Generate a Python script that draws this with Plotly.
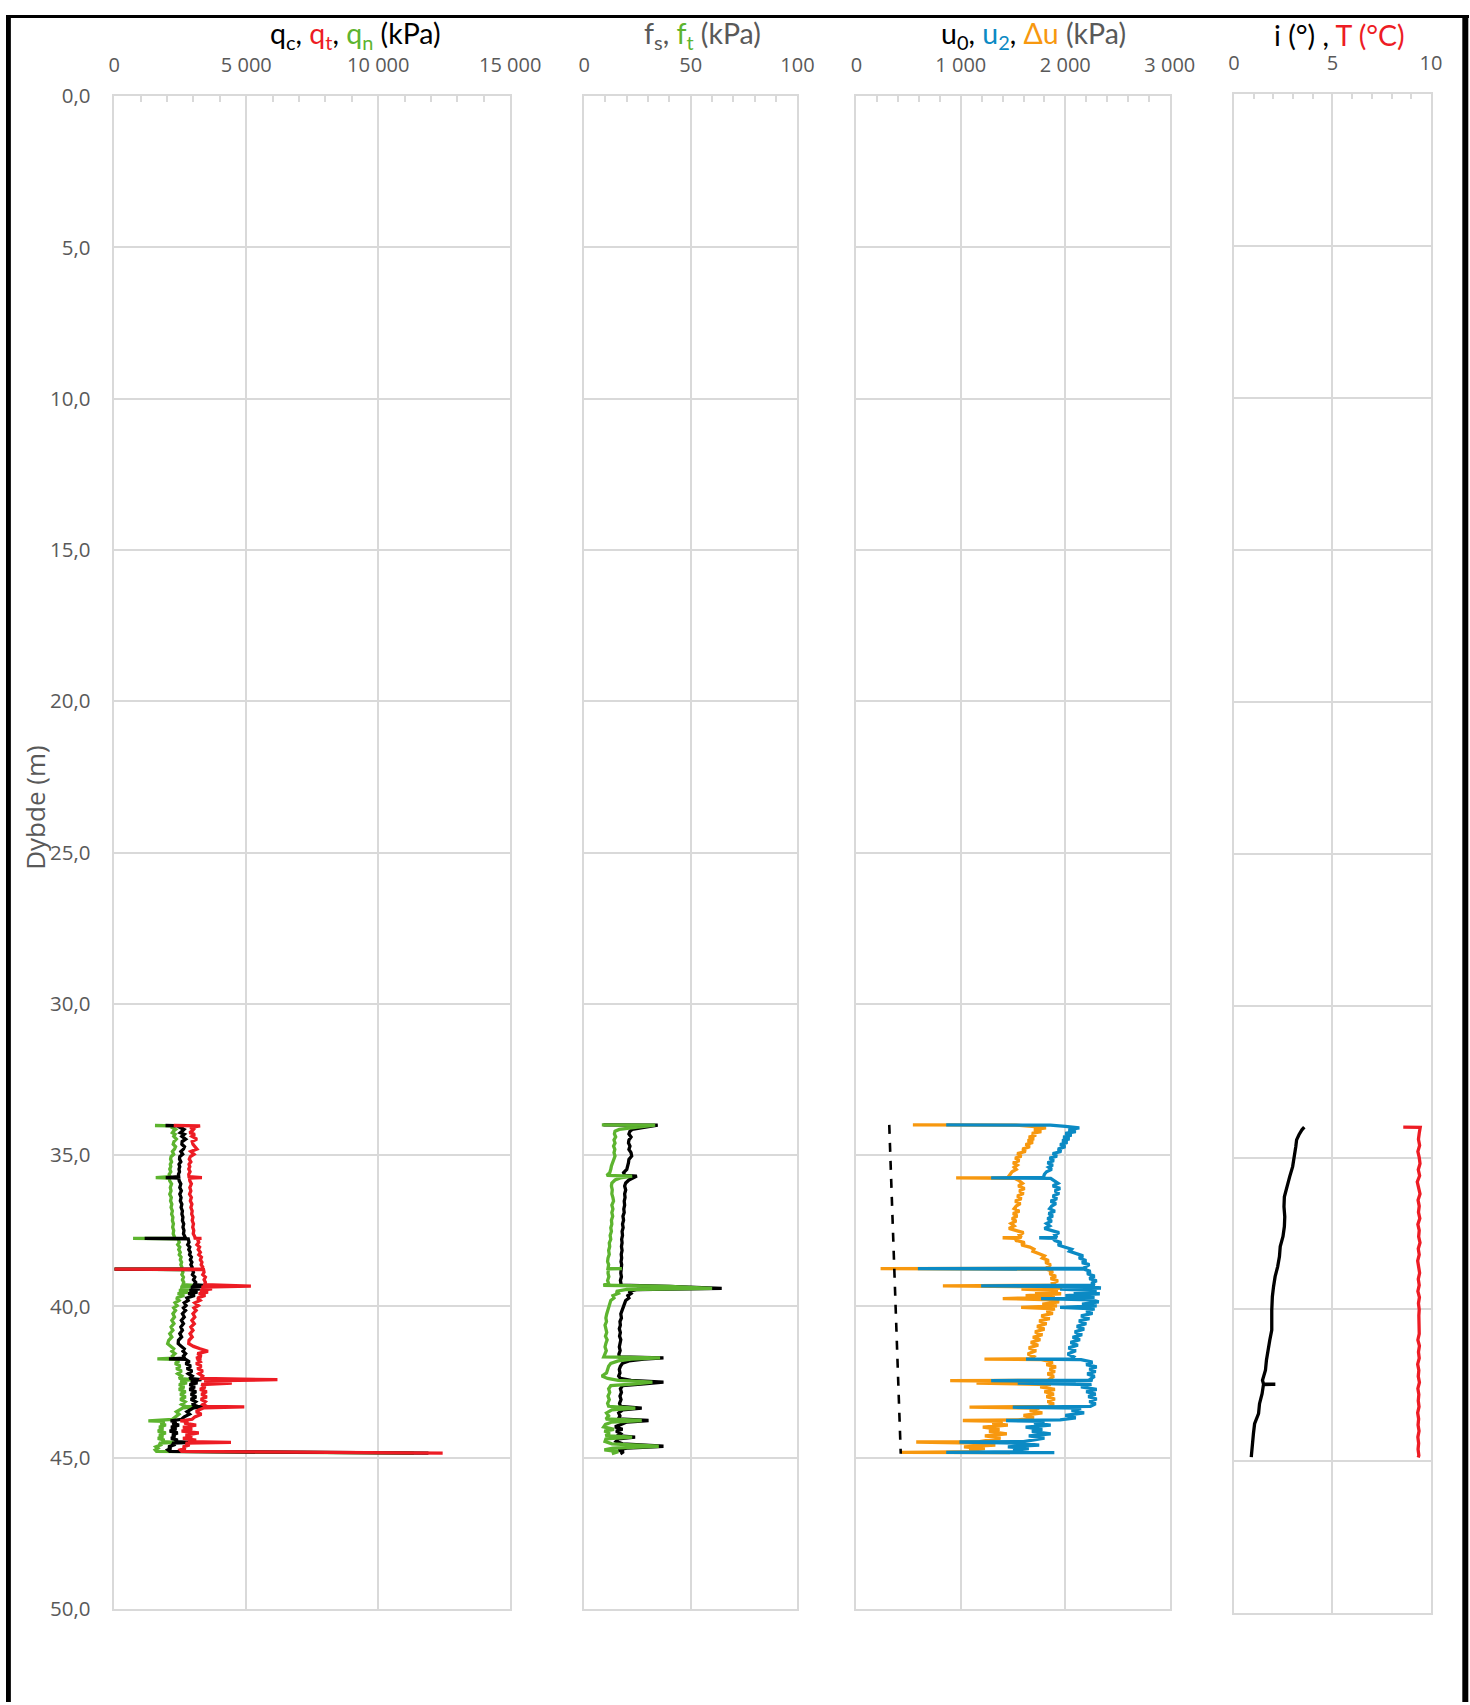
import plotly.graph_objects as go

# ---------------- DATA ----------------
# Panel 1: cone resistance (kPa)
depth_q = [34.02, 34.03, 34.09, 34.15, 34.20, 34.26, 34.31, 34.38, 34.47, 34.55, 34.64, 34.72, 34.80, 34.88,
           34.97, 35.05, 35.13, 35.22, 35.30, 35.38, 35.46, 35.55, 35.63, 35.71, 35.74, 35.76, 35.85, 35.95,
           36.07, 36.18, 36.29, 36.40, 36.51, 36.62, 36.73, 36.84, 36.95, 37.05, 37.16, 37.27, 37.38, 37.49,
           37.60, 37.70, 37.74, 37.75, 37.77, 37.88, 37.96, 38.04, 38.12, 38.21, 38.29, 38.37, 38.46, 38.54,
           38.62, 38.70, 38.76, 38.77, 38.78, 38.87, 38.95, 39.03, 39.12, 39.20, 39.28, 39.33, 39.36, 39.42,
           39.47, 39.53, 39.58, 39.64, 39.72, 39.80, 39.88, 39.97, 40.05, 40.13, 40.24, 40.35, 40.46, 40.57,
           40.68, 40.79, 40.90, 41.01, 41.12, 41.23, 41.32, 41.40, 41.48, 41.56, 41.64, 41.71, 41.73, 41.75,
           41.83, 41.89, 41.97, 42.05, 42.13, 42.22, 42.30, 42.38, 42.42, 42.46, 42.53, 42.58, 42.66, 42.74,
           42.82, 42.90, 42.99, 43.07, 43.15, 43.24, 43.30, 43.32, 43.35, 43.42, 43.48, 43.56, 43.65, 43.73,
           43.78, 43.80, 43.86, 43.92, 43.99, 44.05, 44.12, 44.18, 44.25, 44.31, 44.36, 44.42, 44.47, 44.49,
           44.52, 44.58, 44.64, 44.69, 44.74, 44.79, 44.85]
qn = [1540, 2250, 2200, 2320, 2250, 2200, 2300, 2250, 2350, 2260, 2230, 2320, 2280, 2200,
      2250, 2150, 2130, 2170, 2120, 2140, 2100, 2140, 2080, 2110, 1570, 2080, 2100, 2170,
      2120, 2150, 2100, 2160, 2130, 2180, 2150, 2200, 2170, 2220, 2200, 2240, 2210, 2250,
      2230, 2280, 2300, 710, 2420, 2460, 2400, 2480, 2440, 2500, 2460, 2530, 2500, 2550,
      2520, 2560, 2540, 0, 2580, 2600, 2560, 2620, 2580, 2630, 2600, 3450, 2500, 2900,
      2450, 2800, 2400, 2650, 2350, 2450, 2300, 2380, 2250, 2320, 2220, 2280, 2180, 2260,
      2150, 2220, 2100, 2180, 2060, 2020, 2150, 2250, 2180, 2300, 2200, 2250, 1630, 2300,
      2450, 2300, 2500, 2350, 2550, 2400, 2550, 2450, 2950, 2500, 2750, 2450, 2650, 2450,
      2700, 2500, 2700, 2500, 2680, 2550, 2700, 3100, 2600, 2450, 2350, 2450, 2300, 2200,
      1290, 1900, 1750, 1950, 1700, 1850, 1650, 1950, 1700, 1850, 1650, 1900, 1800, 2400,
      1700, 1750, 1580, 1650, 1550, 1600, 11350]
qc = [1940, 2600, 2500, 2640, 2580, 2500, 2650, 2560, 2700, 2570, 2560, 2660, 2620, 2520,
      2590, 2480, 2470, 2520, 2450, 2480, 2450, 2470, 2430, 2440, 1950, 2440, 2460, 2520,
      2480, 2540, 2480, 2530, 2500, 2560, 2530, 2580, 2560, 2600, 2580, 2630, 2600, 2640,
      2620, 2680, 2700, 1150, 2800, 2830, 2780, 2860, 2820, 2880, 2850, 2920, 2880, 2940,
      2900, 2950, 2930, 0, 2960, 3000, 2960, 3050, 3000, 3080, 3030, 3700, 2900, 3250,
      2850, 3150, 2800, 3050, 2750, 2800, 2650, 2720, 2620, 2700, 2580, 2650, 2540, 2620,
      2520, 2580, 2480, 2550, 2430, 2420, 2550, 2650, 2600, 2700, 2620, 2660, 2070, 2700,
      2850, 2700, 2900, 2750, 2950, 2800, 2950, 2850, 3300, 2900, 3150, 2850, 3050, 2850,
      3100, 2900, 3100, 2900, 3080, 2950, 3150, 3400, 3000, 2850, 2750, 2850, 2650, 2550,
      2130, 2350, 2200, 2450, 2150, 2350, 2100, 2400, 2200, 2300, 2150, 2400, 2300, 2950,
      2200, 2250, 2050, 2150, 2030, 2100, 11900]
qt = [2250, 3250, 2880, 3000, 2950, 2850, 3050, 2940, 3130, 2950, 2980, 3070, 3130, 2900,
      3020, 2880, 2840, 2900, 2830, 2860, 2820, 2870, 2820, 2830, 3320, 2850, 2860, 2920,
      2860, 2900, 2850, 2920, 2880, 2940, 2900, 2950, 2930, 2980, 2950, 3000, 2970, 3010,
      2990, 3050, 3060, 3300, 3150, 3200, 3130, 3230, 3180, 3260, 3200, 3300, 3260, 3320,
      3290, 3350, 3330, 0, 3380, 3400, 3350, 3450, 3400, 3450, 3420, 5175, 3300, 3700,
      3250, 3550, 3200, 3450, 3150, 3250, 3050, 3180, 3020, 3100, 2980, 3050, 2940, 3030,
      2900, 2980, 2870, 2950, 2830, 2820, 3000, 3250, 3550, 3150, 3300, 3100, 3300, 3150,
      3250, 3100, 3300, 3150, 3350, 3200, 3350, 3300, 6180, 3400, 4450, 3300, 3450, 3250,
      3500, 3300, 3500, 3280, 3450, 3350, 3500, 4925, 3400, 3200, 3100, 3300, 3050, 2950,
      2500, 2800, 2650, 3100, 2600, 2950, 2550, 3200, 2700, 2950, 2600, 3100, 2800, 4420,
      2700, 2850, 2600, 2700, 2500, 2550, 12440]

# Panel 2: sleeve friction (kPa)
depth_f = [34.00, 34.01, 34.08, 34.15, 34.21, 34.30, 34.40, 34.50, 34.60, 34.70, 34.81, 34.92, 35.03, 35.14,
           35.25, 35.36, 35.47, 35.58, 35.67, 35.69, 35.75, 35.82, 35.92, 36.02, 36.15, 36.28, 36.40, 36.52,
           36.65, 36.78, 36.90, 37.02, 37.15, 37.28, 37.40, 37.52, 37.65, 37.78, 37.90, 38.02, 38.15, 38.28,
           38.40, 38.52, 38.62, 38.74, 38.75, 38.77, 38.90, 39.02, 39.14, 39.25, 39.30, 39.34, 39.40, 39.44,
           39.50, 39.57, 39.64, 39.72, 39.80, 39.90, 40.00, 40.12, 40.25, 40.38, 40.50, 40.62, 40.74, 40.86,
           40.98, 41.10, 41.22, 41.34, 41.46, 41.58, 41.67, 41.70, 41.74, 41.80, 41.88, 41.98, 42.08, 42.20,
           42.30, 42.38, 42.44, 42.50, 42.56, 42.62, 42.72, 42.84, 42.96, 43.08, 43.20, 43.30, 43.36, 43.42,
           43.52, 43.62, 43.72, 43.77, 43.82, 43.90, 43.98, 44.06, 44.12, 44.20, 44.27, 44.32, 44.38, 44.46,
           44.54, 44.62, 44.68, 44.74, 44.80, 44.87]
fs = [9.0, 34.5, 28.0, 22.5, 21.5, 21.0, 22.0, 21.0, 20.8, 21.5, 21.0, 22.0, 22.3, 21.0,
      20.8, 20.5, 20.0, 18.5, 19.0, 24.7, 23.0, 21.0, 19.5, 19.0, 19.5, 19.0, 19.2, 18.8,
      19.0, 18.6, 18.8, 18.2, 18.5, 18.0, 18.3, 17.8, 18.0, 17.6, 17.8, 17.5, 17.8, 17.4,
      17.6, 17.3, 17.6, 17.3, 17.5, 17.4, 17.2, 17.5, 17.0, 17.3, 17.0, 40.0, 64.5, 25.0,
      21.0, 22.0, 20.5, 21.0, 19.5, 19.0, 18.5, 17.8, 17.2, 17.5, 16.8, 17.0, 16.5, 17.0,
      16.6, 17.2, 16.8, 16.5, 16.9, 16.3, 16.5, 37.2, 28.0, 21.0, 18.0, 17.0, 16.5, 16.8,
      16.2, 17.0, 22.0, 37.2, 28.0, 18.0, 17.0, 17.5, 16.8, 17.3, 16.6, 17.0, 27.0, 18.0,
      16.2, 16.8, 16.0, 30.2, 20.0, 17.5, 14.5, 18.0, 15.0, 17.0, 15.5, 23.9, 16.0, 15.0,
      18.0, 37.2, 20.0, 16.0, 18.5, 17.0]
ft = [8.3, 33.3, 24.0, 16.5, 14.5, 14.2, 14.8, 14.0, 14.5, 13.8, 14.4, 14.0, 14.5, 13.8,
      13.5, 12.8, 12.5, 12.0, 10.6, 22.5, 17.0, 14.5, 13.0, 12.8, 13.2, 13.0, 13.5, 13.8,
      13.0, 13.5, 13.0, 13.4, 12.8, 13.0, 12.5, 12.8, 12.2, 12.5, 11.8, 12.0, 11.5, 11.8,
      11.2, 11.0, 11.5, 11.2, 17.7, 11.4, 11.2, 11.6, 11.0, 11.5, 9.0, 40.0, 60.0, 20.0,
      15.0, 16.0, 13.5, 14.0, 12.5, 12.0, 11.5, 11.0, 10.6, 10.2, 10.5, 9.8, 10.2, 10.6,
      10.0, 10.8, 10.2, 9.8, 10.4, 9.6, 9.2, 35.6, 22.0, 16.0, 12.5, 11.5, 11.0, 10.5,
      8.3, 11.0, 16.0, 32.0, 24.0, 12.5, 11.5, 12.0, 11.2, 11.8, 11.0, 11.5, 24.0, 13.0,
      10.5, 11.5, 10.2, 27.0, 13.0, 10.0, 9.2, 14.0, 9.5, 12.0, 10.0, 22.5, 10.2, 9.8,
      13.0, 35.0, 13.5, 9.5, 16.0, 13.0]

# Panel 3: pore pressures (kPa)
depth_u0 = [34.00, 44.87]
u0 = [315, 425]
depth_u = [34.00, 34.01, 34.05, 34.10, 34.16, 34.22, 34.28, 34.34, 34.40, 34.46, 34.52, 34.58, 34.65, 34.72,
           34.80, 34.88, 34.95, 35.03, 35.10, 35.18, 35.25, 35.33, 35.40, 35.47, 35.55, 35.63, 35.74, 35.75,
           35.77, 35.85, 35.93, 36.02, 36.10, 36.18, 36.27, 36.35, 36.44, 36.52, 36.60, 36.68, 36.77, 36.85,
           36.93, 37.01, 37.10, 37.18, 37.26, 37.34, 37.42, 37.50, 37.56, 37.64, 37.72, 37.73, 37.75, 37.82,
           37.89, 37.97, 38.04, 38.11, 38.18, 38.26, 38.33, 38.40, 38.48, 38.55, 38.62, 38.70, 38.74, 38.75,
           38.77, 38.84, 38.92, 39.00, 39.08, 39.15, 39.23, 39.30, 39.32, 39.35, 39.39, 39.43, 39.48, 39.53,
           39.58, 39.64, 39.70, 39.74, 39.78, 39.85, 39.92, 39.98, 40.03, 40.08, 40.15, 40.23, 40.31, 40.40,
           40.48, 40.57, 40.66, 40.75, 40.84, 40.93, 41.02, 41.10, 41.19, 41.28, 41.37, 41.46, 41.57, 41.66,
           41.73, 41.74, 41.76, 41.84, 41.92, 42.00, 42.07, 42.15, 42.23, 42.31, 42.40, 42.44, 42.45, 42.48,
           42.53, 42.58, 42.66, 42.74, 42.82, 42.90, 42.98, 43.06, 43.14, 43.22, 43.30, 43.33, 43.36, 43.44,
           43.52, 43.60, 43.68, 43.75, 43.77, 43.80, 43.86, 43.92, 43.99, 44.06, 44.13, 44.21, 44.28, 44.35,
           44.42, 44.47, 44.48, 44.52, 44.58, 44.64, 44.70, 44.76, 44.80, 44.82, 44.83]
u2 = [860, 1857, 2000, 2134, 2030, 2100, 2000, 2060, 1980, 2040, 1970, 2020, 1950, 2000,
      1930, 1960, 1880, 1920, 1850, 1890, 1830, 1880, 1840, 1870, 1820, 1800, 1790, 1290,
      1860, 1900, 1930, 1880, 1950, 1900, 1940, 1880, 1920, 1860, 1910, 1870, 1850, 1900,
      1840, 1880, 1830, 1870, 1820, 1850, 1800, 1880, 1940, 1900, 1920, 1750, 1880, 1900,
      1960, 1930, 2010, 2060, 2040, 2110, 2170, 2130, 2200, 2160, 2230, 2190, 2200, 589,
      2180, 2240, 2210, 2280, 2230, 2300, 2250, 2280, 1194, 2200, 2341, 1950, 2300, 2080,
      2330, 2000, 2280, 1768, 2250, 2320, 2160, 2300, 1950, 2280, 2200, 2260, 2150, 2230,
      2130, 2200, 2110, 2180, 2090, 2160, 2070, 2140, 2050, 2120, 2030, 2100, 2022, 2080,
      2060, 1624, 2150, 2260, 2200, 2300, 2230, 2290, 2210, 2280, 2240, 2260, 1290, 2100,
      1545, 2250, 2150, 2300, 2200, 2290, 2220, 2300, 2230, 2290, 2240, 1497, 2150, 2060,
      2180, 2000, 2100, 1950, 1433, 1800, 1700, 1860, 1620, 1780, 1680, 1860, 1650, 1800,
      1700, 1600, 987, 1550, 1750, 1450, 1650, 1500, 1600, 860, 1895]
du = [541, 1530, 1680, 1815, 1700, 1770, 1680, 1720, 1650, 1700, 1640, 1690, 1620, 1660,
      1590, 1620, 1540, 1580, 1520, 1560, 1500, 1540, 1510, 1530, 1490, 1470, 1450, 955,
      1520, 1560, 1590, 1550, 1610, 1560, 1600, 1540, 1580, 1520, 1570, 1530, 1510, 1560,
      1500, 1540, 1490, 1530, 1480, 1510, 1460, 1540, 1600, 1560, 1580, 1400, 1520, 1530,
      1610, 1580, 1660, 1700, 1690, 1750, 1800, 1780, 1840, 1810, 1860, 1830, 1840, 232,
      1820, 1880, 1850, 1910, 1860, 1930, 1880, 1900, 828, 1830, 1970, 1580, 1930, 1710,
      1960, 1620, 1900, 1401, 1880, 1940, 1780, 1920, 1577, 1900, 1820, 1880, 1770, 1850,
      1750, 1820, 1730, 1800, 1710, 1780, 1690, 1760, 1670, 1740, 1650, 1720, 1640, 1700,
      1680, 1226, 1770, 1880, 1820, 1910, 1850, 1900, 1830, 1890, 1850, 1870, 898, 1700,
      1150, 1860, 1760, 1900, 1800, 1890, 1820, 1900, 1830, 1890, 1840, 1083, 1750, 1660,
      1780, 1600, 1700, 1550, 1019, 1400, 1300, 1450, 1210, 1370, 1270, 1440, 1230, 1380,
      1280, 1180, 573, 1140, 1330, 1030, 1230, 1080, 1180, 430, 1470]

# Panel 4: inclination (deg) and temperature (degC)
depth_i = [34.00, 34.09, 34.25, 34.42, 34.64, 34.97, 35.30, 35.63, 35.96, 36.29, 36.62, 36.95, 37.27, 37.60,
           37.93, 38.26, 38.59, 38.92, 39.25, 39.58, 40.02, 40.35, 40.68, 41.01, 41.34, 41.67, 42.00, 42.33,
           42.45, 42.46, 42.47, 42.77, 43.10, 43.43, 43.76, 44.09, 44.42, 44.86]
incl = [3.57, 3.45, 3.30, 3.18, 3.14, 3.08, 2.98, 2.83, 2.70, 2.56, 2.54, 2.58, 2.56, 2.49,
        2.35, 2.31, 2.22, 2.09, 2.01, 1.95, 1.92, 1.93, 1.92, 1.82, 1.73, 1.65, 1.60, 1.45,
        1.50, 2.10, 1.50, 1.43, 1.30, 1.25, 1.05, 0.99, 0.94, 0.88]
depth_T = [34.00, 34.01, 34.2, 34.4, 34.6, 34.8, 35.0, 35.2, 35.4, 35.6, 35.8, 36.0, 36.2, 36.4, 36.6, 36.8,
           37.0, 37.2, 37.4, 37.6, 37.8, 38.0, 38.2, 38.4, 38.6, 38.8, 39.0, 39.2, 39.4, 39.6, 39.8, 40.0,
           40.2, 40.4, 40.6, 40.8, 41.0, 41.2, 41.4, 41.6, 41.8, 42.0, 42.2, 42.4, 42.6, 42.8, 43.0, 43.2,
           43.4, 43.6, 43.8, 44.0, 44.2, 44.4, 44.6, 44.8, 44.87]
temp = [8.59, 9.45, 9.40, 9.36, 9.42, 9.33, 9.40, 9.44, 9.35, 9.42, 9.30, 9.38, 9.44, 9.34, 9.40, 9.36,
        9.43, 9.33, 9.40, 9.37, 9.44, 9.35, 9.40, 9.32, 9.38, 9.42, 9.35, 9.40, 9.33, 9.41, 9.36, 9.40,
        9.38, 9.39, 9.37, 9.40, 9.33, 9.41, 9.36, 9.40, 9.32, 9.38, 9.35, 9.41, 9.33, 9.38, 9.35, 9.39,
        9.32, 9.37, 9.34, 9.39, 9.33, 9.37, 9.34, 9.38, 9.35]

x_ranges = [[0, 15000], [0, 100], [0, 3000], [0, 10]]
x_dticks = [5000, 50, 1000, 5]
x_minor = [1000, 10, 200, 1]
depth_range = [50, 0]
depth_ticks = [0, 5, 10, 15, 20, 25, 30, 35, 40, 45, 50]

# ---------------- STYLE ----------------
# Figure size and the measured screen mapping (screen = offset + scale * figure px)
W, H = 1500, 1715
OX, OY = 3.2, 12.3
SX, SY = 0.977, 0.9857
RED = "#ed1c24"
GREEN = "#5db42f"
BLUE = "#0b8ac4"
ORANGE = "#f7980f"
GRID = "#d9d9d9"
TXT = "#595959"

def fig_x(t):
    return (t - OX) / SX

def fig_y(t):
    return (t - OY) / SY

def px_x(t):
    return min(max(fig_x(t) / W, 0), 1)

def px_y(t):
    return min(max(1 - fig_y(t) / H, 0), 1)

# target screen positions of the panels (px)
x_domains = [[111.7, 508.3], [582.3, 796.0], [855.0, 1169.0], [1233.2, 1430.7]]
y_domains = [[93.6, 1609.6], [93.6, 1609.6], [93.6, 1609.6], [91.2, 1614.0]]

fig = go.Figure()
LW = 3.3

def add(x, y, color, k, width=LW, dash=None):
    fig.add_trace(go.Scatter(
        x=x, y=y, mode="lines",
        line=dict(color=color, width=width, dash=dash),
        xaxis="x" if k == 1 else f"x{k}",
        yaxis="y" if k == 1 else f"y{k}",
        hoverinfo="skip", showlegend=False))

add(qn, depth_q, GREEN, 1)
add(qc, depth_q, "#000000", 1)
add(qt, depth_q, RED, 1)
add(fs, depth_f, "#000000", 2)
add(ft, depth_f, GREEN, 2)
add(du, depth_u, ORANGE, 3)
add(u2, depth_u, BLUE, 3)
add(u0, depth_u0, "#000000", 3, width=2.6, dash="dash")
add(incl, depth_i, "#000000", 4)
add(temp, depth_T, RED, 4)

layout = dict(
    width=W, height=H, autosize=False,
    margin=dict(l=0, r=0, t=0, b=0, pad=0),
    paper_bgcolor="white", plot_bgcolor="white",
    showlegend=False,
    separators=", ",
    font=dict(family="Open Sans", color=TXT),
)

for i in range(4):
    k = i + 1
    xa = dict(
        domain=[px_x(x_domains[i][0]), px_x(x_domains[i][1])],
        range=x_ranges[i], side="top",
        anchor="y" if k == 1 else f"y{k}",
        tickmode="linear", tick0=0, dtick=x_dticks[i],
        tickformat=",d",
        showgrid=True, gridcolor=GRID, gridwidth=1.5,
        showline=True, mirror=True, linecolor=GRID, linewidth=1.5,
        zeroline=False, ticks="",
        ticklabelstandoff=14,
        tickfont=dict(family="Open Sans", size=20, color=TXT),
        minor=dict(ticks="inside", ticklen=6, tickwidth=1.5, tickcolor=GRID,
                   dtick=x_minor[i], tick0=0, showgrid=False),
        fixedrange=True,
    )
    ya = dict(
        domain=[px_y(y_domains[i][1]), px_y(y_domains[i][0])],
        range=depth_range,
        anchor="x" if k == 1 else f"x{k}",
        tickmode="array", tickvals=depth_ticks,
        tickformat=".1f",
        showgrid=True, gridcolor=GRID, gridwidth=1.5,
        showline=True, mirror=True, linecolor=GRID, linewidth=1.5,
        zeroline=False, ticks="",
        showticklabels=(k == 1),
        ticklabelstandoff=18,
        tickfont=dict(family="Open Sans", size=20.5, color=TXT),
        fixedrange=True,
    )
    layout["xaxis" if k == 1 else f"xaxis{k}"] = xa
    layout["yaxis" if k == 1 else f"yaxis{k}"] = ya

fig.update_layout(**layout)

def span(t, c):
    return f"<span style='color:{c}'>{t}</span>"

titles = [
    ("q<sub>c</sub>, " + span("q<sub>t</sub>", RED) + ", " + span("q<sub>n</sub>", GREEN) + " (kPa)", 353, "#000000"),
    (span("f<sub>s</sub>, ", TXT) + span("f<sub>t</sub>", GREEN) + span(" (kPa)", TXT), 701, TXT),
    ("u<sub>0</sub>, " + span("u<sub>2</sub>", BLUE) + ", " + span("Δu", ORANGE) + span(" (kPa)", TXT), 1032, "#000000"),
    ("i (°) , " + span("T (°C)", RED), 1339, "#000000"),
]
for text, cx, col in titles:
    fig.add_annotation(text=text, x=px_x(cx), y=px_y(32), xref="paper", yref="paper",
                       xanchor="center", yanchor="middle", showarrow=False,
                       font=dict(family="Lato", size=28.5, color=col))

fig.add_annotation(text="Dybde (m)", x=px_x(32), y=px_y(807), xref="paper", yref="paper",
                   xanchor="center", yanchor="middle", showarrow=False, textangle=-90,
                   font=dict(family="Open Sans", size=26, color=TXT))

# black frame (figure pixel coordinates)
def fr_x(p):
    return p / W

def fr_y(p):
    return 1 - p / H

frame = [(0, 0, W, 3.0), (0, 0, 5.0, H), (fig_x(1462), 0, fig_x(1468), H)]
for x0, y0, x1, y1 in frame:
    fig.add_shape(type="rect", xref="paper", yref="paper",
                  x0=fr_x(x0), x1=fr_x(min(x1, W)), y0=fr_y(min(y1, H)), y1=fr_y(y0),
                  fillcolor="black", line=dict(width=0), layer="above")

fig.write_html(
    "out.html",
    config={"displayModeBar": False, "responsive": False},
    post_script="document.body.style.margin='0';document.body.style.overflow='hidden';"
                "document.documentElement.style.overflow='hidden';",
)
